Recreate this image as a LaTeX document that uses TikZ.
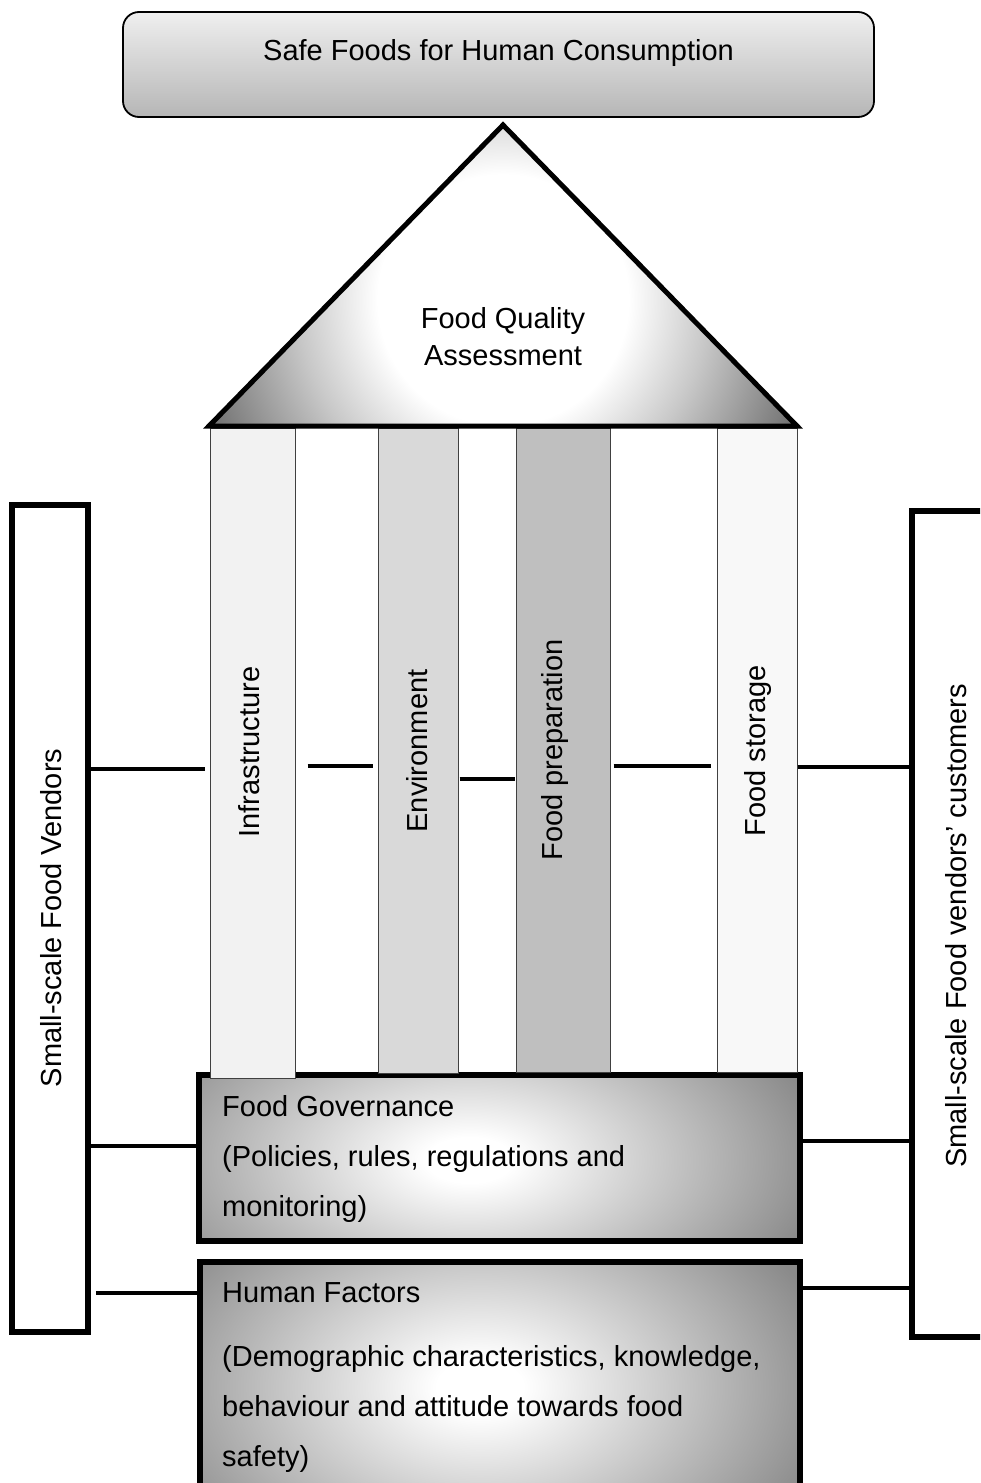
\documentclass[tikz,border=0pt]{standalone}
\usepackage{fontspec}
\setmainfont{Liberation Sans}

% palette
\definecolor{safetop}{HTML}{EFEFEF}
\definecolor{safebot}{HTML}{B6B6B6}
\definecolor{roofmid}{HTML}{C8C8C8}
\definecolor{roofedge}{HTML}{666666}
\definecolor{boxedge}{HTML}{8A8A8A}
\definecolor{pillarline}{HTML}{404040}
\definecolor{infrafill}{HTML}{F2F2F2}
\definecolor{envfill}{HTML}{D9D9D9}
\definecolor{prepfill}{HTML}{BFBFBF}
\definecolor{storefill}{HTML}{F8F8F8}

% soft glows for the roof and the two foundation slabs
% (the path's bounding box is mapped onto the central 50bp square)
\pgfdeclareradialshading{roofglow}{\pgfpoint{0bp}{0bp}}%
  {color(0bp)=(white); color(9.5bp)=(white); color(15.5bp)=(roofmid); color(25bp)=(roofedge); color(50bp)=(roofedge)}
\pgfdeclareradialshading{boxglow}{\pgfpoint{0bp}{0bp}}%
  {color(0bp)=(white); color(3bp)=(white); color(25bp)=(boxedge); color(50bp)=(boxedge)}

\begin{document}
\begin{tikzpicture}[x=1pt, y=-1pt,
  txt/.style={font=\fontsize{29}{50}\selectfont, inner sep=0pt},
  vtxt/.style={txt, rotate=90, anchor=base},
  topbox/.style={draw, line width=1.8pt, rounded corners=16pt,
    top color=safetop, bottom color=safebot, inner sep=0pt},
  pillarbox/.style={draw=pillarline, line width=1pt, inner sep=0pt},
  sidebox/.style={draw, line width=5.5pt, fill=white, inner sep=0pt},
  slab/.style={draw, line width=5.5pt, fill=boxedge, inner sep=0pt},
  roofline/.style={draw, line width=5pt, line join=miter},
  link/.style={line width=4.5pt}]

\useasboundingbox (0,0) rectangle (980,1483);
\clip (0,0) rectangle (980,1483);

% ---- goal at the top ----
\node[topbox, minimum width=751pt, minimum height=105pt] (safe) at (498.5,64.5) {};
\node[txt, anchor=base] (safetxt) at (498.5,60) {Safe Foods for Human Consumption};

% ---- side boxes ----
\node[sidebox, minimum width=76pt, minimum height=827pt] (vend) at (50,918.5) {};
\node[vtxt] (vendtxt) at (61,918) {Small-scale Food Vendors};
\node[sidebox, minimum width=148pt, minimum height=826pt] (cust) at (986,924) {};
\node[vtxt] (custtxt) at (966,926) {Small-scale Food vendors’ customers};

% ---- foundation slabs ----
\node[slab, minimum width=601pt, minimum height=166pt,
  path picture={\shade[shading=boxglow]
    ([xshift=-30pt,yshift=-2pt]path picture bounding box.center)
    ellipse [x radius=360pt, y radius=190pt];}] (gov) at (499.5,1158) {};
\node[txt, anchor=north west, align=left] (govtxt) at (222,1095)
  {Food Governance\\(Policies, rules, regulations and\\monitoring)};

\node[slab, minimum width=600pt, minimum height=250pt,
  path picture={\shade[shading=boxglow]
    ([xshift=-20pt,yshift=0pt]path picture bounding box.center)
    ellipse [x radius=360pt, y radius=230pt];}] (hum) at (500,1387) {};
\node[txt, anchor=north west, align=left] (humtxt) at (222,1282)
  {Human Factors\\[14pt](Demographic characteristics, knowledge,\\behaviour and attitude towards food\\safety)};

% ---- pillars ----
\node[pillarbox, fill=infrafill, minimum width=85pt, minimum height=650pt] (infra) at (252.5,753) {};
\node[pillarbox, fill=envfill,   minimum width=80pt, minimum height=645pt] (env)   at (418,750.5) {};
\node[pillarbox, fill=prepfill,  minimum width=94pt, minimum height=644pt] (prep)  at (563,750) {};
\node[pillarbox, fill=storefill, minimum width=80pt, minimum height=644pt] (store) at (757,750) {};
\node[vtxt] (infratxt) at (259,752) {Infrastructure};
\node[vtxt] (envtxt)   at (427,751) {Environment};
\node[vtxt] (preptxt)  at (562,750) {Food preparation};
\node[vtxt] (storetxt) at (765,751) {Food storage};

% ---- roof ----
\coordinate (apex) at (503,125);
\coordinate (eaveL) at (209,426);
\coordinate (eaveR) at (797,426);
\begin{scope}
  \clip (apex) -- (eaveL) -- (eaveR) -- cycle;
  \fill[roofedge] (200,120) rectangle (805,432);
  \shade[shading=roofglow] (503,300) circle [radius=330pt];
\end{scope}
\draw[roofline] (apex) -- (eaveL) -- (eaveR) -- cycle;
\node[txt, align=center, font=\fontsize{29}{37}\selectfont] (fqa) at (503,337)
  {Food Quality\\Assessment};

% ---- connectors ----
\coordinate (rowL)  at (0,769);
\coordinate (rowIE) at (0,766);
\coordinate (rowEP) at (0,779);
\coordinate (rowPS) at (0,766);
\coordinate (rowR)  at (0,767);
\coordinate (rowGL) at (0,1146);
\coordinate (rowGR) at (0,1141);
\coordinate (rowHL) at (0,1293);
\coordinate (rowHR) at (0,1288);

\draw[link, shorten >=5pt] (vend.east |- rowL) -- (infra.west |- rowL);
\draw[link, shorten <=12pt, shorten >=5pt] (infra.east |- rowIE) -- (env.west |- rowIE);
\draw[link, shorten <=1pt, shorten >=1pt] (env.east |- rowEP) -- (prep.west |- rowEP);
\draw[link, shorten <=3pt, shorten >=6pt] (prep.east |- rowPS) -- (store.west |- rowPS);
\draw[link] (store.east |- rowR) -- (cust.west |- rowR);
\draw[link] (vend.east |- rowGL) -- (gov.west |- rowGL);
\draw[link, shorten <=-5pt] (gov.east |- rowGR) -- (cust.west |- rowGR);
\draw[link, shorten <=5pt] (vend.east |- rowHL) -- (hum.west |- rowHL);
\draw[link] (hum.east |- rowHR) -- (cust.west |- rowHR);

\end{tikzpicture}
\end{document}
